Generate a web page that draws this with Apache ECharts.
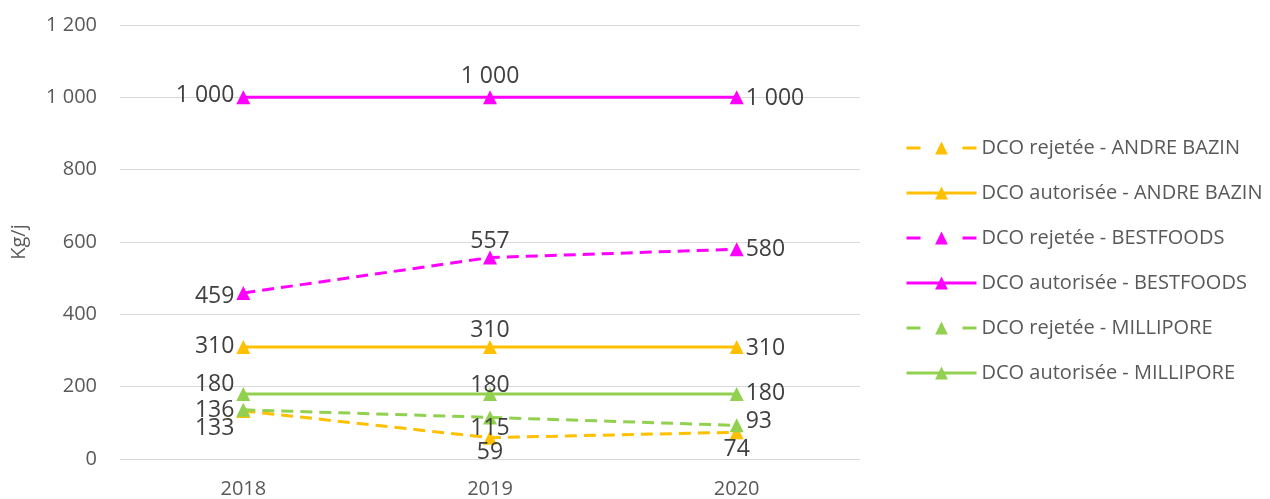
<!DOCTYPE html>
<html>
<head>
<meta charset="utf-8">
<script src="https://cdn.jsdelivr.net/npm/echarts@6/dist/echarts.min.js"></script>
<style>
  html, body { margin: 0; padding: 0; background: #fff; }
  #chart { width: 1270px; height: 499px; }
</style>
</head>
<body>
<div id="chart"></div>
<script>
var years = ["2018", "2019", "2020"];

var rejAndre = [133, 59, 74];
var autAndre = [310, 310, 310];
var rejBest = [459, 557, 580];
var autBest = [1000, 1000, 1000];
var rejMilli = [136, 115, 93];
var autMilli = [180, 180, 180];

var yTicks = [0, 200, 400, 600, 800, 1000, 1200];

function fmt(v) {
  return String(v).replace(/\B(?=(\d{3})+(?!\d))/g, " ");
}

var ORANGE = "#FFC000";
var MAGENTA = "#FF00FF";
var GREEN = "#92D050";
var FONT = "Open Sans, Noto Sans, sans-serif";

// label placement per point: [position, offset]
function buildData(values, place) {
  return values.map(function (v, i) {
    var p = place[i];
    return {
      value: v,
      label: { position: p[0], offset: p[1] }
    };
  });
}

function makeSeries(name, values, color, dashed, place) {
  return {
    name: name,
    type: "line",
    data: buildData(values, place),
    symbol: "triangle",
    symbolSize: 14,
    lineStyle: {
      color: color,
      width: 3,
      type: dashed ? [12, 7] : "solid"
    },
    itemStyle: { color: color },
    label: {
      show: true,
      color: "#404040",
      fontSize: 23,
      fontFamily: FONT,
      distance: 2,
      formatter: function (p) { return fmt(p.value); }
    },
    animation: false
  };
}

function legendItem(name, dashed) {
  if (!dashed) return { name: name };
  return { name: name, lineStyle: { type: [14, 42] } };
}

var chart = echarts.init(document.getElementById("chart"));

var option = {
  backgroundColor: "#ffffff",
  grid: {
    left: 120,
    right: 410,
    top: 25,
    bottom: 39
  },
  legend: {
    orient: "vertical",
    left: 900,
    top: 133,
    itemWidth: 70,
    itemHeight: 16,
    itemGap: 25,
    itemTextGap: 6,
    lineStyle: { width: 3 },
    textStyle: {
      color: "#595959",
      fontSize: 20,
      fontFamily: FONT
    },
    data: [
      legendItem("DCO rejetée - ANDRE BAZIN", true),
      legendItem("DCO autorisée - ANDRE BAZIN", false),
      legendItem("DCO rejetée - BESTFOODS", true),
      legendItem("DCO autorisée - BESTFOODS", false),
      legendItem("DCO rejetée - MILLIPORE", true),
      legendItem("DCO autorisée - MILLIPORE", false)
    ]
  },
  xAxis: {
    type: "category",
    data: years,
    boundaryGap: true,
    axisLine: { show: false },
    axisTick: { show: false },
    axisLabel: {
      color: "#595959",
      fontSize: 20,
      margin: 20,
      fontFamily: FONT
    }
  },
  yAxis: {
    type: "value",
    min: yTicks[0],
    max: yTicks[yTicks.length - 1],
    interval: 200,
    name: "Kg/j",
    nameLocation: "middle",
    nameGap: 91,
    nameRotate: 90,
    nameTextStyle: {
      color: "#595959",
      fontSize: 20,
      fontFamily: FONT
    },
    axisLine: { show: false },
    axisTick: { show: false },
    axisLabel: {
      color: "#595959",
      fontSize: 20,
      margin: 23,
      fontFamily: FONT,
      formatter: function (v) { return fmt(v); }
    },
    splitLine: { lineStyle: { color: "#D9D9D9", width: 1 } }
  },
  series: [
    makeSeries("DCO rejetée - ANDRE BAZIN", rejAndre, ORANGE, true,
      [["left", [0, 18]], ["bottom", [0, -6]], ["bottom", [0, -3]]]),
    makeSeries("DCO autorisée - ANDRE BAZIN", autAndre, ORANGE, false,
      [["left", [0, 0]], ["top", [0, 4]], ["right", [0, 2]]]),
    makeSeries("DCO rejetée - BESTFOODS", rejBest, MAGENTA, true,
      [["left", [0, 3]], ["top", [0, 4]], ["right", [0, 0]]]),
    makeSeries("DCO autorisée - BESTFOODS", autBest, MAGENTA, false,
      [["left", [0, -2]], ["top", [0, 0]], ["right", [0, 1]]]),
    makeSeries("DCO rejetée - MILLIPORE", rejMilli, GREEN, true,
      [["left", [0, 1]], ["bottom", [0, -9]], ["right", [0, -4]]]),
    makeSeries("DCO autorisée - MILLIPORE", autMilli, GREEN, false,
      [["left", [0, -9]], ["top", [0, 12]], ["right", [0, 0]]])
  ]
};

chart.setOption(option);
</script>
</body>
</html>
